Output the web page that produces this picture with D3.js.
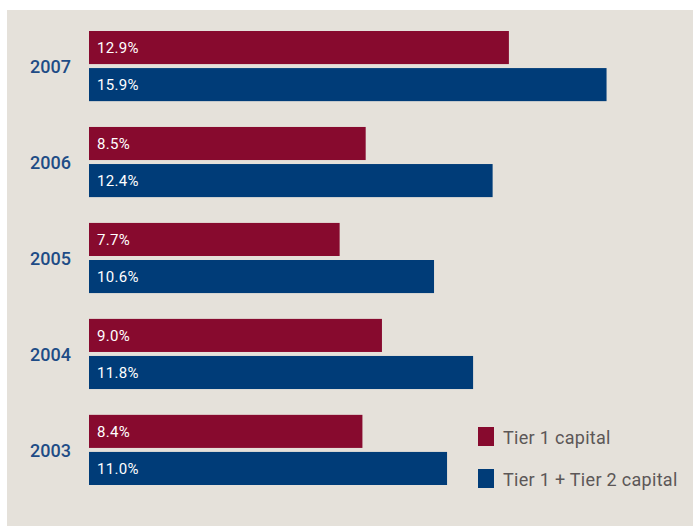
<!DOCTYPE html>
<html><head><meta charset="utf-8">
<script src="https://cdn.jsdelivr.net/npm/d3@7"></script>
<style>body{margin:0;background:#fff;}svg{display:block;}</style>
</head><body>
<svg id="c" width="693" height="526"></svg>
<script>
const years = ["2007","2006","2005","2004","2003"];
const seriesNames = ["Tier 1 capital","Tier 1 + Tier 2 capital"];
const tier1 = [12.9, 8.5, 7.7, 9.0, 8.4];
const tier12 = [15.9, 12.4, 10.6, 11.8, 11.0];
const colors = ["#870a2e","#003c78"];

const svg = d3.select("#c");
svg.append("rect").attr("x",7).attr("y",10).attr("width",686).attr("height",516).attr("fill","#e5e1da");

const x = d3.scaleLinear().domain([0,16]).range([89, 89+16*32.55]);
const y = d3.scaleBand().domain(years).range([31,485]).paddingInner(0.269).paddingOuter(0);
const ys = d3.scaleBand().domain([0,1]).range([0,y.bandwidth()]).paddingInner(0.108).paddingOuter(0);

const fmt = d => d.toFixed(1) + "%";
const seriesVals = [tier1, tier12];

years.forEach((yr,i)=>{
  const g = svg.append("g").attr("transform",`translate(0,${y(yr)})`);
  seriesVals.forEach((vals,s)=>{
    g.append("rect").attr("x",x(0)).attr("y",ys(s)).attr("width",x(vals[i])-x(0)).attr("height",ys.bandwidth()).attr("fill",colors[s]);
    g.append("text").attr("x",x(0)+8).attr("y",ys(s)+ys.bandwidth()/2).attr("dy","0.36em")
      .attr("fill","#fff").attr("font-family","Roboto, sans-serif").attr("font-size",15).attr("letter-spacing",0.3).text(fmt(vals[i]));
  });
  svg.append("text").attr("x",71).attr("y",y(yr)+y.bandwidth()/2).attr("dy","0.38em").attr("text-anchor","end")
    .attr("fill","#1e4c86").attr("font-family","Roboto, sans-serif").attr("font-weight","500").attr("font-size",18).text(yr);
});

const leg = svg.append("g");
seriesNames.forEach((n,s)=>{
  const ly = 427 + s*42;
  leg.append("rect").attr("x",478).attr("y",ly).attr("width",16).attr("height",19).attr("fill",colors[s]);
  leg.append("text").attr("x",503).attr("y",ly+17).attr("fill","#5c5757")
    .attr("font-family","Roboto, sans-serif").attr("font-size",18).attr("letter-spacing",0.3).text(n);
});
</script>
</body></html>
